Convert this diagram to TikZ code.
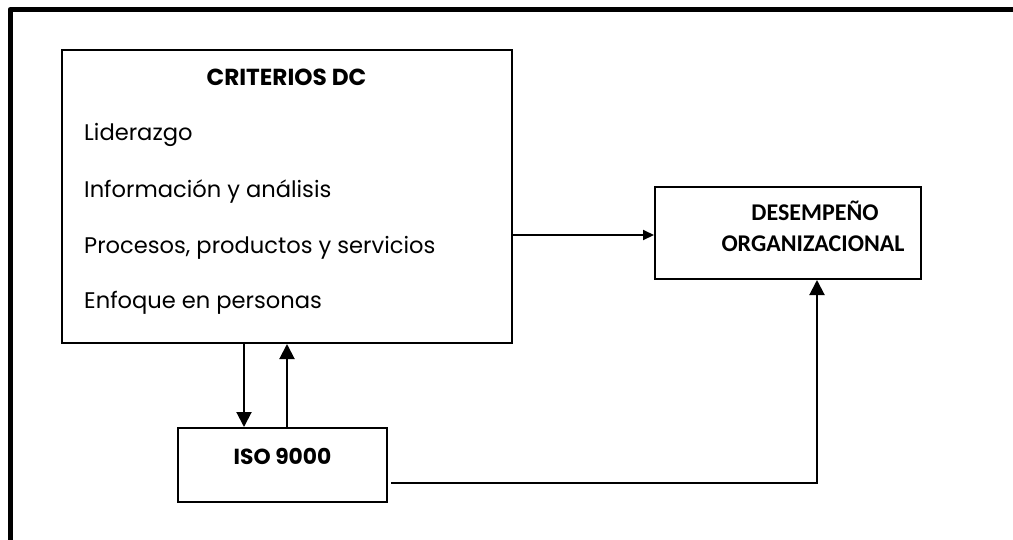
\documentclass[tikz,border=0pt]{standalone}
\usepackage{fontspec}
\usetikzlibrary{arrows.meta,calc}
\newfontfamily\gothicfont{Poppins}
\newfontfamily\calibrifont{Carlito}
\tikzset{
  frameline/.style={line width=5pt, line join=round, line cap=round},
  boxed/.style={draw, line width=2pt, inner sep=0pt},
  conn/.style={line width=2pt},
  bigtip/.style={-{Triangle[length=15pt,width=15pt]}},
  smalltip/.style={-{Triangle[length=11pt,width=10pt]}},
  itemtext/.style={anchor=base west, inner sep=0pt, font=\gothicfont\fontsize{22.6}{26}\selectfont},
  titletext/.style={anchor=base, inner sep=0pt, font=\gothicfont\bfseries\fontsize{23.2}{27}\selectfont},
  isotext/.style={anchor=base, inner sep=0pt, font=\gothicfont\bfseries\fontsize{21.8}{25}\selectfont},
  calbold/.style={anchor=base, inner sep=0pt, font=\calibrifont\bfseries\fontsize{24}{28}\selectfont}
}
\begin{document}
\begin{tikzpicture}[x=1pt,y=-1pt]
\useasboundingbox (0,0) rectangle (1013,539);
% page frame: top and left rules
\draw[frameline] (1020,9.5) -- (10,9.5) -- (10,545);

% boxes
\node[boxed, minimum width=450pt, minimum height=293pt] (crit) at (287,196.5) {};
\node[boxed, minimum width=266pt, minimum height=92pt] (des) at (788,233) {};
\node[boxed, minimum width=209pt, minimum height=74pt] (iso) at (282.5,465) {};

% texts
\node[titletext] (ct) at (286.5,85) {CRITERIOS DC};
\node[itemtext] (i1) at (84,140) {Liderazgo};
\node[itemtext] (i2) at (84,197) {Información y análisis};
\node[itemtext] (i3) at (84,253) {Procesos, productos y servicios};
\node[itemtext] (i4) at (84,308) {Enfoque en personas};
\node[isotext] (it) at (282.5,464) {ISO 9000};
\node[calbold] (d1) at (815,220) {DESEMPEÑO};
\node[calbold] (d2) at (813,251) {ORGANIZACIONAL};

% connectors
\draw[conn, smalltip] (crit.east |- 0,235) -- (des.west |- 0,235);
\draw[conn, bigtip] (crit.south -| 244,0) -- (iso.north -| 244,0);
\draw[conn, bigtip] (iso.north -| 287,0) -- (crit.south -| 287,0);
\coordinate (isoout) at (391,483);
\draw[conn, bigtip] (isoout) -- (817,483) -- (des.south -| 817,0);
\end{tikzpicture}
\end{document}
